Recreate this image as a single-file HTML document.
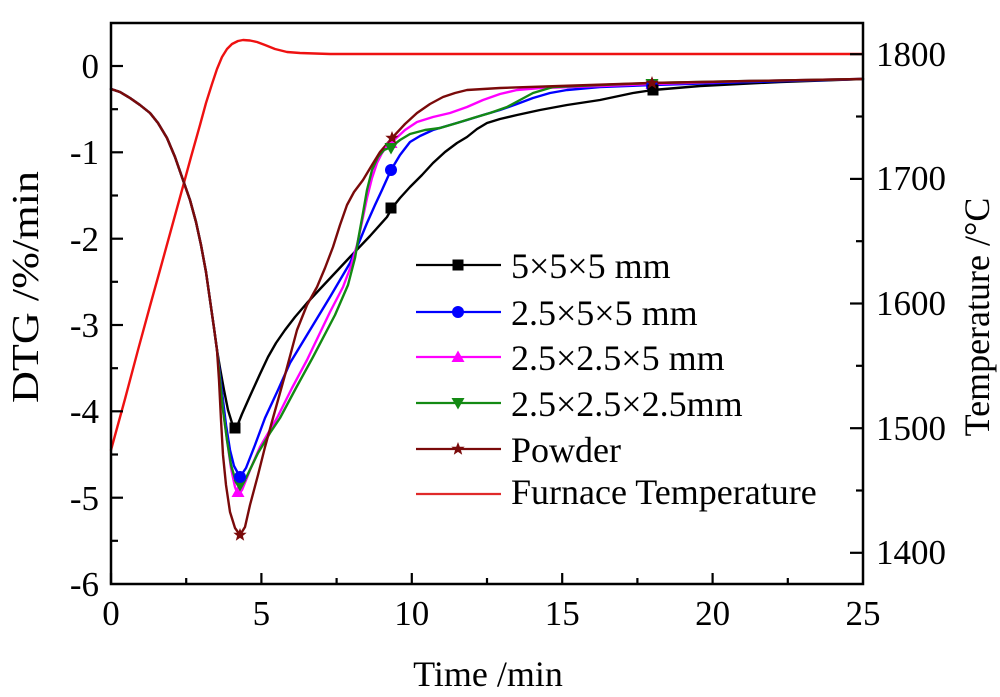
<!DOCTYPE html>
<html><head><meta charset="utf-8"><style>
html,body{margin:0;padding:0;background:#fff;}
svg{display:block;}
text{font-family:"Liberation Serif","Times New Roman",serif;fill:#000;}
</style></head><body>
<svg width="1000" height="697" viewBox="0 0 1000 697" xmlns="http://www.w3.org/2000/svg">
<rect x="0" y="0" width="1000" height="697" fill="#fff"/>
<g fill="none" stroke-linejoin="round" stroke-linecap="round" stroke-width="2.4">
<polyline stroke="#ee1111" points="111,450 125,399 138,350 150,306 160,270 171,230 182,190 191,157 200,125 206,103 212,84 217,69 222,57 227,49 232,44 238,41 243,40 250,40.5 257,42 265,45 275,49 287,52 300,53 330,54 863,54"/>
<polyline stroke="#000" points="111,89 120,92 130,98 140,105 150,113 158,123 167,138 175,157 183,180 190,200 196,222 201,245 206,272 210,300 214,328 217,350 220,368 224,390 228,410 232,423 235,428 238,424 242,414 250,396 260,374 268,357 276,343 285,330 295,317 307,303 320,289 335,273 350,257 370,236 387,217 392,208 400,198 410,187 422,175 433,163 445,152 457,143 467,137 477,129 487,123 500,119 517,115 540,110 567,105 600,100 633,93 653,90 700,86 780,82 863,79"/>
<polyline stroke="#0000ff" points="111,89 120,92 130,98 140,105 150,113 158,123 167,138 175,157 183,180 190,200 196,222 201,245 206,272 210,300 214,328 217,350 220,375 223,400 226,425 230,450 234,466 240,477 246,468 255,445 265,418 278,390 290,363 310,330 330,297 350,263 360,240 367,223 375,205 382,190 391,170 400,155 410,142 420,136 433,130 450,125 467,120 483,115 500,110 517,104 533,98 550,93 567,90 600,87 652,85 750,82 863,79"/>
<polyline stroke="#ff00ff" points="111,89 120,92 130,98 140,105 150,113 158,123 167,138 175,157 183,180 190,200 196,222 201,245 206,272 210,300 214,328 217,350 220,380 223,410 227,440 231,468 235,487 238,495 242,490 250,470 260,447 277,418 292,388 307,360 330,312 343,287 351,266 357,245 362,222 367,198 372,178 377,163 382,153 387,146 392,142 405,130 417,122 433,117 450,113 467,107 483,100 500,94 517,90 540,88 600,86 652,84 750,81 863,79"/>
<polyline stroke="#138a13" points="111,89 120,92 130,98 140,105 150,113 158,123 167,138 175,157 183,180 190,200 196,222 201,245 206,272 210,300 214,328 217,350 220,380 223,410 227,440 231,465 236,482 240,487 246,478 258,453 270,433 280,418 296,388 313,357 335,315 348,285 355,258 359,235 363,213 367,190 372,170 378,157 384,150 391,147 400,140 410,134 425,130 440,128 457,123 473,118 490,113 507,107 520,100 533,93 553,87 600,85 652,83 750,81 863,79"/>
<polyline stroke="#7a0a0a" points="111,89 120,92 130,98 140,105 150,113 158,123 167,138 175,157 183,180 190,200 196,222 201,245 206,272 210,300 214,328 217,350 219,380 221,420 223,455 226,485 230,512 235,528 240,535 245,527 250,505 258,475 265,447 273,418 285,375 297,330 307,305 317,287 325,268 333,247 340,225 347,205 354,192 363,180 372,165 380,152 392,138 405,124 417,113 430,104 443,97 455,93 467,90 500,88 560,86 650,83 750,81 863,79"/>
</g>
<defs>
<polygon id="star" points="0,-7 1.8,-2.3 6.7,-2.2 2.9,0.9 4.2,5.7 0,2.9 -4.2,5.7 -2.9,0.9 -6.7,-2.2 -1.8,-2.3"/>
<polygon id="tri" points="0,-6.5 6.5,5 -6.5,5"/>
<polygon id="dtri" points="0,6.5 6.5,-5 -6.5,-5"/>
<rect id="sq" x="-5.5" y="-5.5" width="11" height="11"/>
<circle id="cir" r="6"/>
</defs>
<g fill="#ff00ff"><use href="#tri" x="238" y="492"/><use href="#tri" x="391" y="143"/><use href="#tri" x="652" y="84"/></g>
<g fill="#138a13"><use href="#dtri" x="240" y="485"/><use href="#dtri" x="391" y="148"/><use href="#dtri" x="652" y="84"/></g>
<g fill="#0000ff"><use href="#cir" x="240" y="477"/><use href="#cir" x="391" y="170"/><use href="#cir" x="652" y="86"/></g>
<g fill="#000"><use href="#sq" x="235" y="428"/><use href="#sq" x="391" y="208"/><use href="#sq" x="653" y="90"/></g>
<g fill="#7a0a0a"><use href="#star" x="240" y="535"/><use href="#star" x="392" y="138"/><use href="#star" x="652" y="83"/></g>

<rect x="111" y="23" width="752" height="561" fill="none" stroke="#000" stroke-width="2.5"/>
<g stroke="#000" stroke-width="2.2">
<line x1="111" y1="584" x2="111" y2="573"/>
<line x1="186.2" y1="584" x2="186.2" y2="578"/>
<line x1="261.4" y1="584" x2="261.4" y2="573"/>
<line x1="336.6" y1="584" x2="336.6" y2="578"/>
<line x1="411.8" y1="584" x2="411.8" y2="573"/>
<line x1="487" y1="584" x2="487" y2="578"/>
<line x1="562.2" y1="584" x2="562.2" y2="573"/>
<line x1="637.4" y1="584" x2="637.4" y2="578"/>
<line x1="712.6" y1="584" x2="712.6" y2="573"/>
<line x1="787.8" y1="584" x2="787.8" y2="578"/>
<line x1="111" y1="66" x2="123" y2="66"/>
<line x1="111" y1="109.2" x2="118" y2="109.2"/>
<line x1="111" y1="152.3" x2="123" y2="152.3"/>
<line x1="111" y1="195.5" x2="118" y2="195.5"/>
<line x1="111" y1="238.7" x2="123" y2="238.7"/>
<line x1="111" y1="281.8" x2="118" y2="281.8"/>
<line x1="111" y1="325" x2="123" y2="325"/>
<line x1="111" y1="368.2" x2="118" y2="368.2"/>
<line x1="111" y1="411.3" x2="123" y2="411.3"/>
<line x1="111" y1="454.5" x2="118" y2="454.5"/>
<line x1="111" y1="497.7" x2="123" y2="497.7"/>
<line x1="111" y1="540.8" x2="118" y2="540.8"/>
<line x1="863" y1="54.2" x2="850" y2="54.2"/>
<line x1="863" y1="116.5" x2="856" y2="116.5"/>
<line x1="863" y1="178.9" x2="850" y2="178.9"/>
<line x1="863" y1="241.2" x2="856" y2="241.2"/>
<line x1="863" y1="303.5" x2="850" y2="303.5"/>
<line x1="863" y1="365.8" x2="856" y2="365.8"/>
<line x1="863" y1="428.2" x2="850" y2="428.2"/>
<line x1="863" y1="490.5" x2="856" y2="490.5"/>
<line x1="863" y1="552.8" x2="850" y2="552.8"/>
</g>

<g font-size="35" text-anchor="middle">
<text x="111" y="625">0</text>
<text x="261.4" y="625">5</text>
<text x="411.8" y="625">10</text>
<text x="562.2" y="625">15</text>
<text x="712.6" y="625">20</text>
<text x="863" y="625">25</text>
</g>
<g font-size="35" text-anchor="end">
<text x="99" y="78">0</text>
<text x="99" y="164">-1</text>
<text x="99" y="251">-2</text>
<text x="99" y="337">-3</text>
<text x="99" y="423">-4</text>
<text x="99" y="510">-5</text>
<text x="99" y="596">-6</text>
</g>
<g font-size="35" text-anchor="start">
<text x="876" y="66">1800</text>
<text x="876" y="190">1700</text>
<text x="876" y="315">1600</text>
<text x="876" y="440">1500</text>
<text x="876" y="564">1400</text>
</g>

<text x="488" y="686" font-size="36" text-anchor="middle">Time /min</text>
<text transform="translate(38,287) rotate(-90)" font-size="38" text-anchor="middle" textLength="232" lengthAdjust="spacingAndGlyphs">DTG /%/min</text>
<text transform="translate(989,317) rotate(-90)" font-size="36" text-anchor="middle">Temperature /°C</text>

<g stroke-width="2.2">
<line x1="416" y1="265" x2="501" y2="265" stroke="#000"/>
<line x1="416" y1="312" x2="501" y2="312" stroke="#0000ff"/>
<line x1="416" y1="357" x2="501" y2="357" stroke="#ff00ff"/>
<line x1="416" y1="403" x2="501" y2="403" stroke="#138a13"/>
<line x1="416" y1="449" x2="501" y2="449" stroke="#7a0a0a"/>
<line x1="416" y1="494" x2="501" y2="494" stroke="#e02a2a"/>
</g>
<use href="#sq" x="458" y="265" fill="#000"/>
<use href="#cir" x="458" y="312" fill="#0000ff"/>
<use href="#tri" x="458" y="357" fill="#ff00ff"/>
<use href="#dtri" x="458" y="403" fill="#138a13"/>
<use href="#star" x="458" y="449" fill="#7a0a0a"/>
<g font-size="36">
<text x="511" y="278">5×5×5 mm</text>
<text x="511" y="325">2.5×5×5 mm</text>
<text x="511" y="370">2.5×2.5×5 mm</text>
<text x="511" y="416">2.5×2.5×2.5mm</text>
<text x="511" y="462">Powder</text>
<text x="511" y="504">Furnace Temperature</text>
</g>
</svg>
</body></html>
